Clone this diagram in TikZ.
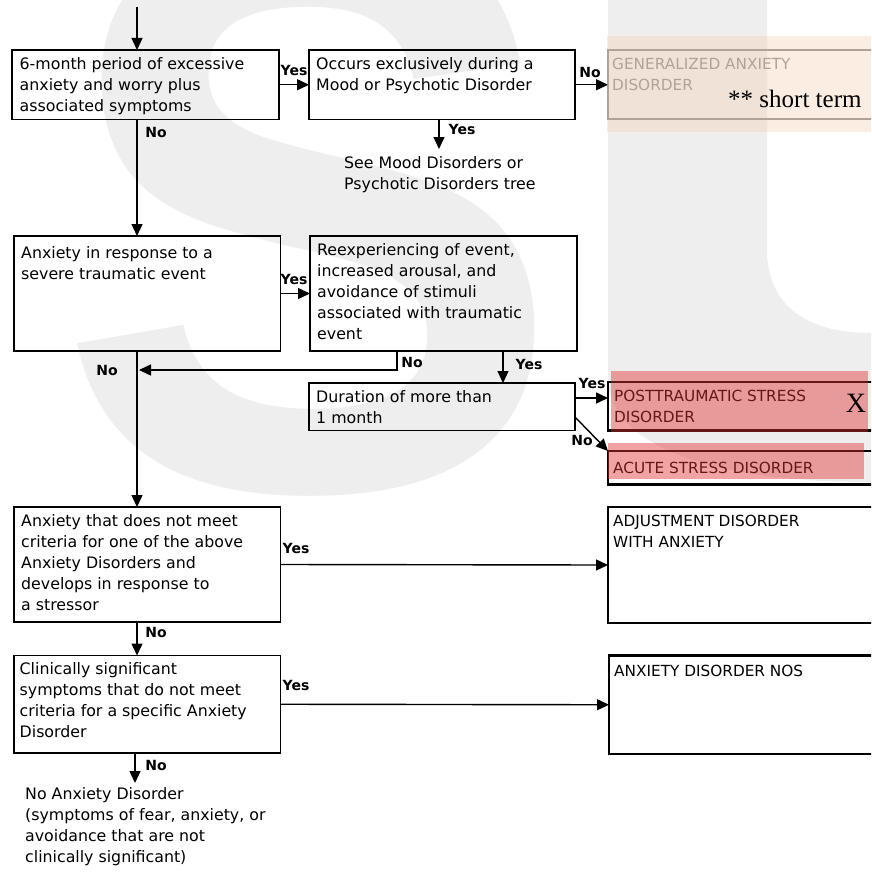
\documentclass[tikz,border=0pt]{standalone}
\usepackage{graphicx}
\usepackage{fontspec}
\setmainfont{DejaVu Sans}
\newfontfamily\serifx{Liberation Serif}
\newfontfamily\wmfont{Liberation Sans}
\usetikzlibrary{arrows.meta,calc}
\definecolor{wm}{RGB}{238,238,238}
\definecolor{peach}{RGB}{246,205,170}
\definecolor{redov}{RGB}{225,50,50}
\definecolor{gadgray}{RGB}{140,140,140}
\newcommand\fs{\rule{0pt}{15pt}}
\begin{document}
\begin{tikzpicture}[x=1pt,y=-1pt,
  box/.style={draw=black, line width=1.5pt, anchor=north west, inner sep=0pt, outer sep=0pt, rectangle},
  resbox/.style={box, line width=2.4pt},
  txt/.style={anchor=north west, inner sep=0pt, align=left, font=\fontsize{15.8}{21}\selectfont},
  captxt/.style={txt, font=\fontsize{15.3}{21}\selectfont},
  lab/.style={anchor=base, inner sep=0pt, font=\fontsize{14}{14}\selectfont\bfseries},
  arr/.style={line width=1.4pt, -{Triangle[length=12pt,width=11pt]}}
]
\clip (0,0) rectangle (871,872);
\fill[white] (0,0) rectangle (871,872);

% watermark
\node[anchor=north west, inner sep=0pt, text=wm] (wmS) at (55,-75) {\resizebox{508pt}{560pt}{\wmfont\bfseries S}};
\fill[wm] (608,-5) -- (608,385) .. controls (618,450) and (720,482) .. (871,482) -- (871,333) .. controls (800,333) and (767,300) .. (767,250) -- (767,-5) -- cycle;

% boxes
\node[box, minimum width=267pt, minimum height=69.5pt] (b1) at (12,50) {};
\node[box, minimum width=266pt, minimum height=69.5pt] (b2) at (309,50) {};
\node[box, draw=gadgray, line width=2pt, minimum width=277pt, minimum height=69.5pt] (gad) at (608,50) {};
\node[box, minimum width=266.5pt, minimum height=115pt] (b3) at (14,236) {};
\node[box, minimum width=267pt, minimum height=115pt] (b4) at (310,236) {};
\node[box, minimum width=266pt, minimum height=47.5pt] (b5) at (309,383) {};
\node[resbox, minimum width=277pt, minimum height=48.5pt] (ptsd) at (608,382) {};
\node[resbox, minimum width=277pt, minimum height=33.5pt] (acute) at (608,451) {};
\node[box, minimum width=266.5pt, minimum height=115pt] (b6) at (14,507) {};
\node[resbox, minimum width=277pt, minimum height=116pt] (adj) at (608,507) {};
\node[box, minimum width=266.5pt, minimum height=97.5pt] (b7) at (14,655.5) {};
\node[resbox, minimum width=276pt, minimum height=98.5pt] (nos) at (609,655.5) {};

% box texts
\node[txt] (t1) at ($(b1.north west)+(7.5,4)$) {\fs 6-month period of excessive\\anxiety and worry plus\\associated symptoms};
\node[txt] (t2) at ($(b2.north west)+(7,4)$) {\fs Occurs exclusively during a\\Mood or Psychotic Disorder};
\node[captxt, text=gadgray] (tgad) at ($(gad.north west)+(4,4.5)$) {\fs GENERALIZED ANXIETY\\DISORDER};
\node[txt] (t3) at ($(b3.north west)+(7,7)$) {\fs Anxiety in response to a\\severe traumatic event};
\node[txt] (t4) at ($(b4.north west)+(7,4)$) {\fs Reexperiencing of event,\\increased arousal, and\\avoidance of stimuli\\associated with traumatic\\event};
\node[txt] (t5) at ($(b5.north west)+(7,4)$) {\fs Duration of more than\\1 month};
\node[captxt] (tptsd) at ($(ptsd.north west)+(6,4)$) {\fs POSTTRAUMATIC STRESS\\DISORDER};
\node[captxt] (tacute) at ($(acute.north west)+(5,7.5)$) {\fs ACUTE STRESS DISORDER};
\node[txt] (t6) at ($(b6.north west)+(7,4)$) {\fs Anxiety that does not meet\\criteria for one of the above\\Anxiety Disorders and\\develops in response to\\a stressor};
\node[captxt] (tadj) at ($(adj.north west)+(5,4.5)$) {\fs ADJUSTMENT DISORDER\\WITH ANXIETY};
\node[txt] (t7) at ($(b7.north west)+(5.5,4)$) {\fs Clinically significant\\symptoms that do not meet\\criteria for a specific Anxiety\\Disorder};
\node[captxt] (tnos) at ($(nos.north west)+(5,5.5)$) {\fs ANXIETY DISORDER NOS};
\node[txt] (see) at (344,153) {\fs See Mood Disorders or\\Psychotic Disorders tree};
\node[txt] (none) at (25,784) {\fs No Anxiety Disorder\\(symptoms of fear, anxiety, or\\avoidance that are not\\clinically significant)};

% connectors
\coordinate (top) at (137,7);
\coordinate (spine) at (137,0);
\coordinate (seeTop) at (439,149);
\coordinate (n4) at (397,370);
\coordinate (j4) at (139,370);
\coordinate (y4) at (503,0);
\coordinate (noTop) at (135,783);
\draw[arr] (top) -- (top |- b1.north);
\draw[arr] (b1.east) -- (b2.west);
\draw[arr] (b2.east) -- (gad.west);
\draw[arr] (b2.south -| seeTop) -- (seeTop);
\draw[arr] (b1.south -| spine) -- (b3.north -| spine);
\draw[arr] (b3.east) -- (b4.west);
\draw[arr] (b4.south -| n4) |- (j4);
\draw[arr] (b4.south -| y4) -- (b5.north -| y4);
\draw[arr] ($(b5.north east)+(0,15)$) -- ($(ptsd.north west)+(0,16)$);
\draw[arr] ($(b5.north east)+(0,34)$) -- (acute.north west);
\draw[arr] (b3.south -| spine) -- (b6.north -| spine);
\draw[arr] (b6.east) -- (adj.west);
\draw[arr] (b6.south -| spine) -- (b7.north -| spine);
\draw[arr] (b7.east) -- (nos.west);
\draw[arr] (b7.south -| noTop) -- (noTop);

% labels
\node[lab] (l1) at (294,76) {Yes};
\node[lab] (l2) at (590,78) {No};
\node[lab] (l3) at (462,135) {Yes};
\node[lab] (l4) at (156,137) {No};
\node[lab] (l5) at (294,284) {Yes};
\node[lab] (l6) at (412,367) {No};
\node[lab] (l7) at (107,375) {No};
\node[lab] (l8) at (529,369) {Yes};
\node[lab] (l9) at (592,388) {Yes};
\node[lab] (l10) at (582,445) {No};
\node[lab] (l11) at (296,553) {Yes};
\node[lab] (l12) at (156,637) {No};
\node[lab] (l13) at (296,690) {Yes};
\node[lab] (l14) at (156,770) {No};

% overlays
\fill[peach, opacity=0.35] (607,36) rectangle (871,132);
\fill[redov, opacity=0.45] (611,371) rectangle (868,432);
\fill[redov, opacity=0.45] (608,443) rectangle (864,479);

\node[anchor=base west, inner sep=0pt, font=\serifx\fontsize{25}{25}\selectfont] (st) at (728,108) {** short term};
\node[anchor=base, inner sep=0pt, font=\serifx\fontsize{28}{28}\selectfont] (xx) at (856,412) {X};
\end{tikzpicture}
\end{document}
